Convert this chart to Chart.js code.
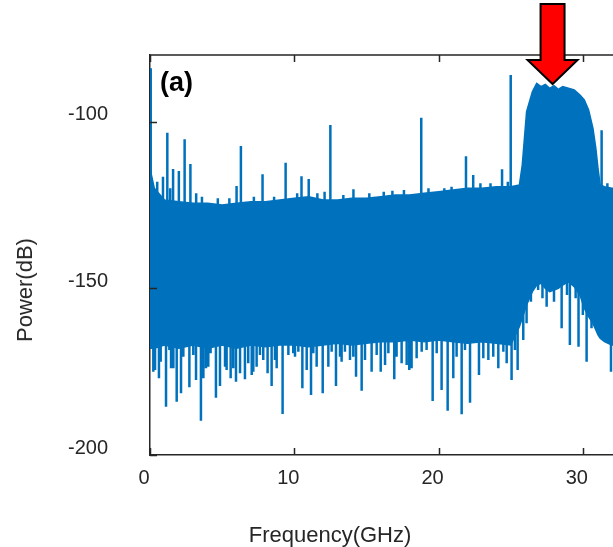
<!DOCTYPE html>
<html>
<head>
<meta charset="utf-8">
<script src="https://cdn.jsdelivr.net/npm/chart.js@4/dist/chart.umd.min.js"></script>
<style>
  html, body { margin: 0; padding: 0; background: #fff; overflow: hidden; }
  #wrap { position: relative; width: 613px; height: 547px; overflow: hidden; }
  #graphs { position: absolute; left: 0; top: 0; }
  .txt { position: absolute; font-family: "Liberation Sans", Arial, Helvetica, sans-serif; color: #262626; white-space: nowrap; }
  #panel { left: 160px; top: 67px; font-size: 27px; font-weight: bold; color: #000; }
  #xtitle { left: 330px; top: 535px; font-size: 22px; transform: translate(-50%, -50%); }
  #ytitle { left: 25px; top: 290px; font-size: 22px; transform: translate(-50%, -50%) rotate(-90deg); }
</style>
</head>
<body>
<div id="wrap">
  <canvas id="graphs" width="700" height="547"></canvas>
  <div class="txt" id="panel">(a)</div>
  <div class="txt" id="xtitle">Frequency(GHz)</div>
  <div class="txt" id="ytitle">Power(dB)</div>
</div>
<script>
// spectrum envelope (GHz, dB)
const freqGHz = [0, 0.3, 1, 2, 3, 4, 5, 6, 7, 8, 9, 10, 11, 12, 13, 14, 15, 16, 17, 18, 19, 20, 21, 22, 23, 24, 25,
  25.6, 25.8, 26.1, 26.5, 26.8, 27.1, 27.4, 27.7, 28.0, 28.3, 28.6, 29.0, 29.4, 29.8, 30.1, 30.4, 30.7, 30.9, 31.05,
  31.2, 31.5, 32, 33, 35];
const upperDb = [-114, -120, -123.5, -124, -124.5, -124.5, -125, -124.5, -124, -124, -123.5, -123, -122.5, -123.5,
  -123.5, -123, -123, -122.5, -122, -122, -121.5, -121, -120.5, -120, -120, -119.5, -119.5,
  -119, -113, -97, -91, -88.5, -89.5, -88.8, -90, -89.2, -90.3, -89.5, -90, -90.5, -92, -93.5, -96.5, -102, -108, -114,
  -119, -119.5, -120, -120, -120];
const lowerDb = [-168, -168, -167, -168, -167, -168, -167, -168, -167, -167.5, -167, -167, -167.5, -167, -166.5, -167,
  -166.5, -166, -166, -165.5, -166, -165.5, -166, -166.5, -166, -166.5, -167,
  -161.5, -159, -155, -151, -149, -148.5, -150, -151, -150.5, -150, -149, -148, -149.5, -152, -156, -158.5, -160.5,
  -162.5, -164, -165, -166, -167, -167, -167];

// narrow spurs above the noise floor
const upSpikeGHz = [0.05, 0.9, 1.2, 1.6, 2.0, 2.4, 2.8, 3.2, 4.7, 6.0, 6.3, 7.8, 9.4, 10.5, 11.0, 12.1, 12.5, 14.1,
  16.8, 18.8, 20.4, 21.9, 22.4, 24.4, 25.0, 31.3];
const upSpikeDb = [-84, -116.5, -103.3, -114.2, -114.8, -105.3, -112.7, -121.5, -123, -119.3, -107.3, -115.8, -112.3,
  -116.4, -117.2, -121, -101, -120.3, -120.7, -98.8, -120, -110.4, -116, -114.3, -86, -102.6];

// small ripples on top of the noise floor
const rippleGHz = [0.5, 1.4, 3.6, 5.5, 7.2, 8.6, 10.2, 11.6, 13.4, 15.2, 16.2, 17.6, 19.3, 20.9, 22.9, 23.6, 24.8,
  31.7, 32.3];
const rippleDb = [-118, -120, -122.5, -123, -122.5, -122.5, -121.5, -121.5, -122, -121.5, -121, -120.5, -120, -119.5,
  -118.5, -118.5, -118, -118.5, -118.5];

// long dips below the noise floor
const downSpikeGHz = [0.23, 0.62, 1.11, 1.46, 1.85, 2.15, 2.73, 3.19, 3.53, 3.7, 3.88, 4.57, 4.85, 5.2, 5.59, 5.96,
  6.24, 6.58, 7.05, 7.39, 8.15, 8.43, 8.78, 9.19, 10.05, 10.56, 10.86, 11.16, 11.55, 11.97, 12.36, 12.89, 13.28, 13.86,
  14.28, 14.67, 15.36, 15.99, 16.29, 16.93, 17.44, 17.97, 18.48, 19.59, 20.21, 20.63, 21.02, 21.6, 22.18, 22.8, 23.45,
  24.14, 25.06, 25.48, 25.87, 26.1, 26.9, 27.49, 28.53, 29.1, 29.7, 30.26, 31.0, 31.4, 31.95];
const downSpikeDb = [-175, -177, -185.5, -174, -184, -181.5, -179.7, -177.5, -189.7, -177, -174, -182.8, -179.3, -173.5,
  -177, -178, -175.5, -177.3, -176, -173.5, -175.5, -179.3, -174, -187.7, -170.5, -180, -174.5, -182, -173.5, -181.5,
  -173.5, -179.3, -172, -171.5, -176.5, -180.7, -175, -175, -173, -177.3, -172.5, -174.5, -171, -183.8, -180.5, -186.7,
  -177, -187.8, -184.3, -176, -171.5, -174, -177.5, -174.5, -165.5, -160.5, -150.5, -155.5, -162, -167, -167.5, -172,
  -160.5, -165.5, -175];

// short teeth along the lower edge
const shortDipGHz = [0.35, 0.74, 1.34, 1.62, 2.31, 3.0, 4.04, 4.2, 5.31, 5.77, 6.24, 6.81, 7.16, 7.62, 7.85, 8.66, 9.59,
  9.93, 10.28, 11.32, 12.59, 13.17, 13.51, 14.09, 14.9, 15.71, 16.52, 17.09, 17.79, 18.13, 18.83, 19.17, 19.87, 21.25,
  21.83, 23.1, 23.79, 24.49, 24.72, 25.29, 26.4, 27.2, 28.0, 28.9, 29.5, 30.0, 30.6];
const shortDipDb = [-174.5, -172, -168.5, -174, -170.5, -170, -173.5, -169.5, -174.5, -174, -170.5, -172.5, -175, -170,
  -171.5, -171.5, -170, -169.5, -169, -169.5, -169, -170.5, -169, -170.5, -171.5, -170, -169.5, -170.5, -173, -174,
  -169, -168.5, -169.5, -170.5, -168.5, -171, -170.5, -169, -172.5, -168.5, -154, -153, -154, -152, -153, -158, -162];

const xTicks = [0, 10, 20, 30];
const yTicks = [-200, -150, -100];
const arrowGHz = 27.9;

const blue = "#0072BD";
const axisColor = "#262626";
const fontFamily = "'Liberation Sans', Arial, Helvetica, sans-serif";

// each spur is a vertical segment starting inside the noise band
const spikeBase = -140;
const spikePoints = [];
const addSpikes = (fs, vs) => {
  fs.forEach((f, i) => {
    spikePoints.push({ x: f, y: spikeBase }, { x: f, y: vs[i] }, { x: f, y: null });
  });
};
addSpikes(upSpikeGHz, upSpikeDb);
addSpikes(rippleGHz, rippleDb);
addSpikes(downSpikeGHz, downSpikeDb);
addSpikes(shortDipGHz, shortDipDb);

const upperPts = freqGHz.map((f, i) => ({ x: f, y: upperDb[i] }));
const lowerPts = freqGHz.map((f, i) => ({ x: f, y: lowerDb[i] }));

// matlab style box: inside ticks, top line, red arrow
const boxPlugin = {
  id: "box",
  afterDraw(chart) {
    const { ctx, chartArea } = chart;
    const xs = chart.scales.x;
    const ys = chart.scales.y;
    ctx.save();
    ctx.strokeStyle = axisColor;
    ctx.lineWidth = 1.5;
    ctx.beginPath();
    ctx.moveTo(chartArea.left, chartArea.top);
    ctx.lineTo(chartArea.right, chartArea.top);
    xTicks.forEach((t) => {
      const px = Math.round(xs.getPixelForValue(t)) + 0.5;
      ctx.moveTo(px, chartArea.bottom);
      ctx.lineTo(px, chartArea.bottom - 7);
      ctx.moveTo(px, chartArea.top);
      ctx.lineTo(px, chartArea.top + 7);
    });
    yTicks.forEach((t) => {
      const py = Math.round(ys.getPixelForValue(t)) + 0.5;
      ctx.moveTo(chartArea.left, py);
      ctx.lineTo(chartArea.left + 7, py);
    });
    ctx.stroke();

    // arrow pointing down at the signal band
    const ax = xs.getPixelForValue(arrowGHz);
    const tip = chartArea.top + 29;
    ctx.beginPath();
    ctx.moveTo(ax, tip);
    ctx.lineTo(ax - 25, tip - 24);
    ctx.lineTo(ax - 12, tip - 24);
    ctx.lineTo(ax - 12, tip - 80);
    ctx.lineTo(ax + 12, tip - 80);
    ctx.lineTo(ax + 12, tip - 24);
    ctx.lineTo(ax + 25, tip - 24);
    ctx.closePath();
    ctx.fillStyle = "#ff0000";
    ctx.fill();
    ctx.lineWidth = 2;
    ctx.strokeStyle = "#000";
    ctx.stroke();
    ctx.restore();
  },
};

const ctx = document.getElementById("graphs").getContext("2d");

new Chart(ctx, {
  type: "line",
  data: {
    datasets: [
      {
        data: upperPts,
        borderColor: blue,
        backgroundColor: blue,
        borderWidth: 1.5,
        fill: "+1",
        pointRadius: 0,
        tension: 0,
      },
      {
        data: lowerPts,
        borderColor: blue,
        backgroundColor: blue,
        borderWidth: 1.5,
        fill: false,
        pointRadius: 0,
        tension: 0,
      },
      {
        data: spikePoints,
        borderColor: blue,
        borderWidth: 2.5,
        fill: false,
        pointRadius: 0,
        spanGaps: false,
      },
    ],
  },
  options: {
    responsive: false,
    animation: false,
    layout: { padding: { top: 55, right: 45, left: 0, bottom: 0 } },
    plugins: { legend: { display: false }, tooltip: { enabled: false } },
    scales: {
      x: {
        type: "linear",
        min: 0,
        max: 35,
        afterFit: (s) => { s.height = 92; },
        afterBuildTicks: (s) => { s.ticks = xTicks.map((v) => ({ value: v })); },
        ticks: {
          padding: 11,
          labelOffset: -6,
          color: axisColor,
          font: { family: fontFamily, size: 20 },
        },
        grid: { drawOnChartArea: false, drawTicks: false },
        border: { color: axisColor, width: 1.5 },
      },
      y: {
        type: "linear",
        min: -200,
        max: -80,
        afterFit: (s) => { s.width = 150; },
        afterBuildTicks: (s) => { s.ticks = yTicks.map((v) => ({ value: v })); },
        ticks: {
          padding: 42,
          labelOffset: -7,
          color: axisColor,
          font: { family: fontFamily, size: 20 },
        },
        grid: { drawOnChartArea: false, drawTicks: false },
        border: { color: axisColor, width: 1.5 },
      },
    },
  },
  plugins: [boxPlugin],
});
</script>
</body>
</html>
